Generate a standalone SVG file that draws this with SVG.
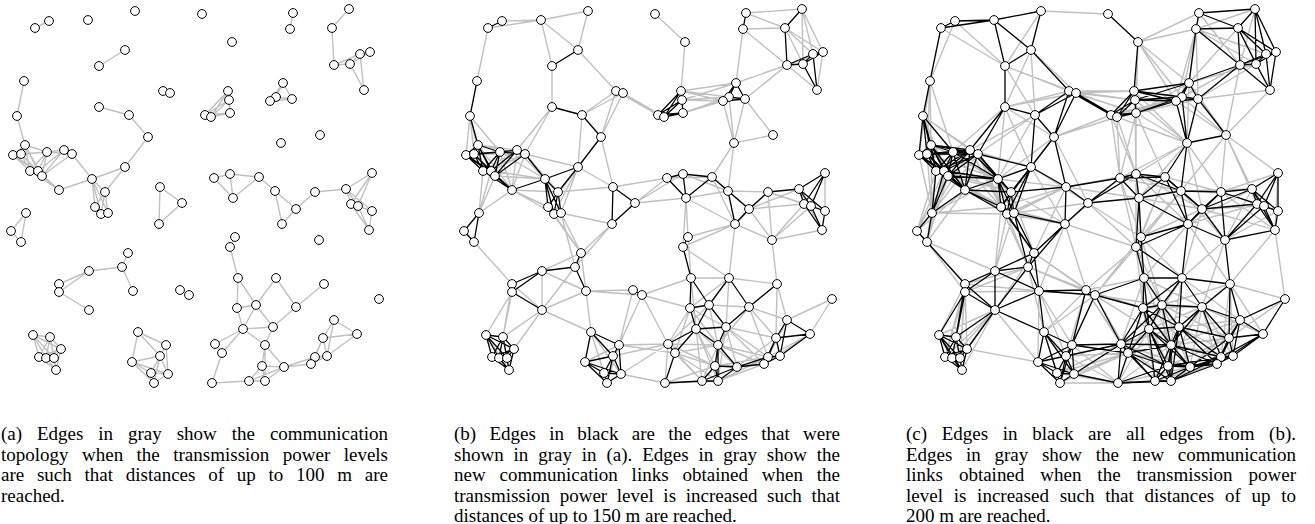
<svg xmlns="http://www.w3.org/2000/svg" width="1315" height="524" viewBox="0 0 1315 524">
<style>
.cap{font-family:"Liberation Serif","Times New Roman",serif;font-size:19px;fill:#000}
.nd circle{fill:#fff;stroke:#000;stroke-width:1}
</style>
<defs>
<path id="e1" fill="none" d="M35 28L49 21M125 50L99 66M24 81L17 116M163 91L170 93M99 107L129 115M129 115L148 137M17 116L25 145M148 137L125 167M25 145L13 155M25 145L21 154M25 145L47 152M25 145L30 171M25 145L38 171M25 145L42 176M13 155L21 154M13 155L47 152M13 155L30 171M13 155L38 171M13 155L42 176M21 154L47 152M21 154L30 171M21 154L38 171M21 154L42 176M47 152L64 150M47 152L72 154M47 152L30 171M47 152L38 171M47 152L42 176M64 150L72 154M64 150L38 171M64 150L42 176M72 154L42 176M72 154L92 179M125 167L92 179M125 167L105 192M30 171L38 171M30 171L42 176M30 171L59 190M38 171L42 176M38 171L59 190M42 176L59 190M92 179L59 190M92 179L105 192M92 179L95 207M92 179L101 214M92 179L108 213M105 192L95 207M105 192L101 214M105 192L108 213M160 187L182 203M160 187L159 224M182 203L159 224M293 13L290 29M349 9L332 28M332 28L334 65M334 65L350 64M334 65L360 54M350 64L360 54M350 64L370 52M350 64L364 90M360 54L370 52M360 54L364 90M283 83L276 97M283 83L270 101M283 83L292 99M276 97L270 101M276 97L292 99M270 101L292 99M228 91L229 100M228 91L230 113M228 91L205 115M228 91L211 117M229 100L230 113M229 100L205 115M229 100L211 117M230 113L205 115M230 113L211 117M205 115L211 117M214 178L230 174M214 178L233 198M230 174L259 177M230 174L233 198M259 177L275 191M259 177L233 198M275 191L296 209M275 191L282 224M315 192L346 189M315 192L296 209M346 189L372 173M346 189L351 204M346 189L358 206M346 189L372 211M372 173L351 204M372 173L358 206M296 209L282 224M351 204L358 206M351 204L372 211M351 204L369 230M358 206L372 211M358 206L369 230M372 211L369 230M235 237L230 247M230 247L238 278M238 278L237 308M238 278L256 305M276 278L256 305M276 278L296 307M324 284L296 307M237 308L256 305M237 308L243 329M256 305L243 329M256 305L273 327M296 307L273 327M243 329L273 327M243 329L215 344M243 329L222 353M243 329L265 345M273 327L265 345M334 320L357 334M334 320L323 338M334 320L327 356M357 334L323 338M357 334L327 356M323 338L315 357M323 338L327 356M323 338L311 364M215 344L222 353M222 353L212 383M265 345L262 366M265 345L284 367M265 345L265 381M315 357L327 356M315 357L311 364M315 357L284 367M327 356L311 364M311 364L284 367M262 366L284 367M262 366L249 381M262 366L265 381M284 367L249 381M284 367L265 381M212 383L249 381M249 381L265 381M95 207L101 214M95 207L108 213M101 214L108 213M26 213L11 231M26 213L21 242M11 231L21 242M128 253L122 267M122 267L89 271M122 267L133 291M89 271L59 284M89 271L59 292M59 284L59 292M59 292L89 310M180 290L189 295M33 335L50 337M33 335L61 349M33 335L39 357M33 335L46 358M33 335L54 358M50 337L61 349M50 337L39 357M50 337L46 358M50 337L54 358M50 337L56 370M61 349L39 357M61 349L46 358M61 349L54 358M61 349L56 370M39 357L46 358M39 357L54 358M39 357L56 370M46 358L54 358M46 358L56 370M54 358L56 370M138 332L166 345M138 332L160 356M138 332L132 362M166 345L160 356M166 345L151 373M166 345L168 374M160 356L132 362M160 356L151 373M160 356L168 374M160 356L154 383M132 362L151 373M132 362L168 374M132 362L154 383M151 373L168 374M151 373L154 383M168 374L154 383"/>
<path id="e2" fill="none" d="M35 28L88 20M35 28L24 81M49 21L88 20M88 20L135 11M88 20L125 50M88 20L99 66M135 11L125 50M202 14L232 42M125 50L163 91M99 66L99 107M163 91L129 115M163 91L148 137M163 91L205 115M163 91L211 117M170 93L129 115M170 93L148 137M170 93L205 115M170 93L211 117M99 107L64 150M99 107L72 154M129 115L125 167M17 116L13 155M17 116L21 154M17 116L47 152M17 116L30 171M148 137L160 187M25 145L64 150M25 145L72 154M25 145L59 190M13 155L64 150M21 154L64 150M21 154L72 154M21 154L59 190M47 152L92 179M47 152L59 190M64 150L30 171M64 150L92 179M64 150L59 190M72 154L125 167M72 154L30 171M72 154L38 171M72 154L59 190M72 154L105 192M125 167L160 187M125 167L95 207M125 167L101 214M125 167L108 213M30 171L26 213M38 171L92 179M38 171L26 213M42 176L92 179M42 176L26 213M59 190L105 192M59 190L95 207M59 190L101 214M59 190L108 213M59 190L26 213M105 192L160 187M160 187L214 178M182 203L214 178M182 203L230 174M182 203L233 198M159 224L108 213M159 224L128 253M159 224L122 267M293 13L349 9M293 13L332 28M290 29L332 28M290 29L334 65M290 29L283 83M349 9L350 64M349 9L360 54M349 9L370 52M332 28L350 64M332 28L360 54M332 28L370 52M232 42L228 91M334 65L370 52M334 65L364 90M334 65L283 83M334 65L292 99M370 52L364 90M283 83L228 91M283 83L229 100M276 97L228 91M276 97L229 100M276 97L230 113M276 97L281 143M270 101L228 91M270 101L229 100M270 101L230 113M270 101L281 143M292 99L320 135M292 99L281 143M320 135L281 143M281 143L259 177M281 143L275 191M214 178L259 177M230 174L275 191M259 177L296 209M259 177L282 224M275 191L233 198M275 191L315 192M233 198L282 224M233 198L235 237M233 198L230 247M315 192L282 224M315 192L351 204M315 192L358 206M315 192L319 240M346 189L296 209M346 189L369 230M372 173L372 211M296 209L351 204M296 209L319 240M282 224L319 240M282 224L235 237M282 224L230 247M282 224L276 278M351 204L319 240M358 206L319 240M369 230L319 240M319 240L324 284M235 237L238 278M230 247L276 278M238 278L276 278M238 278L243 329M238 278L189 295M276 278L324 284M276 278L237 308M276 278L273 327M324 284L334 320M324 284L323 338M379 299L334 320M379 299L357 334M237 308L273 327M237 308L215 344M237 308L222 353M237 308L265 345M237 308L189 295M256 305L296 307M256 305L215 344M256 305L265 345M296 307L334 320M296 307L323 338M296 307L265 345M296 307L315 357M243 329L262 366M243 329L284 367M243 329L249 381M243 329L265 381M273 327L323 338M273 327L315 357M273 327L311 364M273 327L262 366M273 327L284 367M273 327L265 381M334 320L315 357M334 320L311 364M357 334L315 357M357 334L311 364M323 338L284 367M215 344L265 345M215 344L262 366M215 344L212 383M215 344L249 381M215 344L166 345M215 344L160 356M215 344L168 374M215 344L189 295M222 353L265 345M222 353L262 366M222 353L249 381M222 353L265 381M222 353L166 345M265 345L315 357M265 345L311 364M265 345L249 381M315 357L262 366M315 357L265 381M327 356L284 367M311 364L262 366M311 364L265 381M262 366L212 383M212 383L265 381M212 383L168 374M95 207L128 253M101 214L128 253M108 213L128 253M108 213L122 267M21 242L59 284M128 253L89 271M128 253L133 291M122 267L89 310M89 271L133 291M89 271L89 310M59 284L89 310M59 284L50 337M59 292L33 335M59 292L50 337M133 291L89 310M133 291L180 290M133 291L189 295M133 291L138 332M89 310L50 337M89 310L61 349M89 310L138 332M180 290L166 345M189 295L166 345M33 335L56 370M138 332L151 373M138 332L168 374M138 332L154 383M166 345L132 362M166 345L154 383"/>
<path id="e3" fill="none" d="M35 28L99 66M49 21L99 66M49 21L24 81M135 11L202 14M135 11L99 66M125 50L170 93M125 50L99 107M125 50L129 115M99 66L163 91M99 66L170 93M99 66L129 115M24 81L25 145M24 81L13 155M24 81L21 154M24 81L47 152M163 91L99 107M163 91L228 91M163 91L229 100M163 91L230 113M170 93L99 107M170 93L228 91M170 93L229 100M170 93L230 113M99 107L148 137M99 107L47 152M99 107L125 167M99 107L92 179M129 115L64 150M129 115L72 154M129 115L92 179M17 116L64 150M17 116L72 154M17 116L38 171M17 116L42 176M148 137L92 179M148 137L105 192M148 137L182 203M148 137L205 115M148 137L211 117M25 145L92 179M25 145L26 213M13 155L72 154M13 155L59 190M13 155L26 213M21 154L92 179M21 154L26 213M47 152L105 192M47 152L95 207M47 152L26 213M64 150L125 167M64 150L105 192M64 150L95 207M64 150L101 214M64 150L26 213M72 154L95 207M72 154L101 214M72 154L108 213M72 154L26 213M125 167L59 190M125 167L182 203M125 167L159 224M30 171L92 179M30 171L95 207M30 171L11 231M30 171L21 242M38 171L105 192M38 171L95 207M38 171L11 231M38 171L21 242M42 176L105 192M42 176L95 207M42 176L101 214M42 176L108 213M42 176L11 231M42 176L21 242M92 179L160 187M92 179L26 213M59 190L11 231M59 190L21 242M105 192L159 224M105 192L128 253M160 187L230 174M160 187L233 198M160 187L95 207M160 187L101 214M160 187L108 213M160 187L128 253M182 203L108 213M182 203L128 253M182 203L235 237M182 203L230 247M159 224L214 178M159 224L95 207M159 224L101 214M159 224L133 291M159 224L180 290M159 224L230 247M293 13L232 42M293 13L334 65M293 13L283 83M290 29L349 9M290 29L232 42M290 29L350 64M290 29L360 54M290 29L276 97M290 29L270 101M290 29L292 99M349 9L334 65M332 28L364 90M332 28L283 83M232 42L283 83M232 42L276 97M232 42L270 101M232 42L229 100M232 42L230 113M334 65L276 97M334 65L270 101M334 65L320 135M350 64L283 83M350 64L292 99M364 90L292 99M364 90L320 135M283 83L230 113M283 83L320 135M283 83L281 143M276 97L205 115M276 97L211 117M276 97L320 135M270 101L205 115M270 101L211 117M270 101L320 135M292 99L228 91M292 99L229 100M292 99L230 113M228 91L281 143M229 100L281 143M229 100L230 174M230 113L281 143M230 113L214 178M230 113L230 174M230 113L259 177M205 115L214 178M205 115L230 174M211 117L281 143M211 117L214 178M211 117L230 174M320 135L275 191M320 135L315 192M320 135L346 189M320 135L372 173M320 135L351 204M281 143L214 178M281 143L230 174M281 143L233 198M281 143L315 192M281 143L296 209M214 178L275 191M214 178L235 237M214 178L230 247M230 174L296 209M230 174L282 224M230 174L235 237M230 174L230 247M259 177L315 192M259 177L235 237M259 177L230 247M275 191L346 189M275 191L319 240M275 191L235 237M275 191L230 247M233 198L296 209M315 192L372 173M315 192L372 211M315 192L369 230M346 189L282 224M346 189L319 240M372 173L369 230M296 209L358 206M296 209L369 230M296 209L235 237M296 209L276 278M282 224L351 204M282 224L238 278M282 224L324 284M372 211L319 240M369 230L324 284M369 230L379 299M319 240L276 278M319 240L296 307M235 237L276 278M235 237L237 308M235 237L256 305M235 237L189 295M230 247L237 308M230 247L256 305M230 247L180 290M230 247L189 295M238 278L296 307M238 278L273 327M238 278L215 344M238 278L180 290M238 278L265 345M276 278L243 329M276 278L334 320M276 278L265 345M324 284L379 299M324 284L256 305M324 284L273 327M324 284L357 334M324 284L315 357M324 284L327 356M379 299L323 338M237 308L296 307M237 308L262 366M237 308L284 367M237 308L249 381M237 308L180 290M256 305L323 338M256 305L222 353M256 305L262 366M256 305L284 367M256 305L189 295M296 307L243 329M296 307L357 334M296 307L327 356M296 307L311 364M296 307L262 366M296 307L284 367M243 329L212 383M243 329L189 295M243 329L180 290M273 327L334 320M273 327L215 344M273 327L222 353M273 327L327 356M273 327L249 381M334 320L284 367M334 320L265 345M323 338L265 345M323 338L262 366M323 338L265 381M215 344L284 367M215 344L265 381M215 344L151 373M215 344L154 383M215 344L180 290M222 353L284 367M222 353L160 356M222 353L151 373M222 353L168 374M222 353L154 383M222 353L189 295M222 353L180 290M265 345L327 356M265 345L212 383M315 357L249 381M327 356L262 366M327 356L265 381M311 364L249 381M284 367L212 383M212 383L154 383M212 383L151 373M212 383L160 356M212 383L166 345M95 207L26 213M95 207L122 267M95 207L89 271M101 214L26 213M101 214L122 267M101 214L89 271M108 213L89 271M11 231L59 284M21 242L89 271M21 242L59 292M128 253L59 284M128 253L89 310M128 253L180 290M128 253L189 295M122 267L59 284M122 267L59 292M122 267L180 290M122 267L189 295M122 267L138 332M59 284L133 291M59 284L33 335M59 284L61 349M59 284L39 357M59 284L46 358M59 284L54 358M59 292L133 291M59 292L61 349M59 292L39 357M59 292L46 358M59 292L54 358M133 291L166 345M133 291L160 356M133 291L132 362M89 310L33 335M89 310L39 357M89 310L46 358M89 310L54 358M89 310L56 370M89 310L132 362M180 290L138 332M180 290L160 356M189 295L138 332M189 295L160 356M61 349L132 362"/>
</defs>
<g id="connectors" stroke-linecap="round">
<g id="conn-a"><use href="#e1" stroke="#c0c0c0" stroke-width="1.4"/></g>
<g id="conn-b" transform="translate(453,0)"><use href="#e2" stroke="#c0c0c0" stroke-width="1.4"/><use href="#e1" stroke="#000" stroke-width="1.3"/></g>
<g id="conn-c" transform="translate(906,0)"><use href="#e3" stroke="#c0c0c0" stroke-width="1.4"/><use href="#e2" stroke="#000" stroke-width="1.3"/><use href="#e1" stroke="#000" stroke-width="1.3"/></g>
</g>
<g id="nodes-a" class="nd">
<g id="n1"><circle cx="35" cy="28" r="4.4"/></g>
<g id="n2"><circle cx="49" cy="21" r="4.4"/></g>
<g id="n3"><circle cx="88" cy="20" r="4.4"/></g>
<g id="n4"><circle cx="135" cy="11" r="4.4"/></g>
<g id="n5"><circle cx="202" cy="14" r="4.4"/></g>
<g id="n6"><circle cx="125" cy="50" r="4.4"/></g>
<g id="n7"><circle cx="99" cy="66" r="4.4"/></g>
<g id="n8"><circle cx="24" cy="81" r="4.4"/></g>
<g id="n9"><circle cx="163" cy="91" r="4.4"/></g>
<g id="n10"><circle cx="170" cy="93" r="4.4"/></g>
<g id="n11"><circle cx="99" cy="107" r="4.4"/></g>
<g id="n12"><circle cx="129" cy="115" r="4.4"/></g>
<g id="n13"><circle cx="17" cy="116" r="4.4"/></g>
<g id="n14"><circle cx="148" cy="137" r="4.4"/></g>
<g id="n15"><circle cx="25" cy="145" r="4.4"/></g>
<g id="n16"><circle cx="13" cy="155" r="4.4"/></g>
<g id="n17"><circle cx="21" cy="154" r="4.4"/></g>
<g id="n18"><circle cx="47" cy="152" r="4.4"/></g>
<g id="n19"><circle cx="64" cy="150" r="4.4"/></g>
<g id="n20"><circle cx="72" cy="154" r="4.4"/></g>
<g id="n21"><circle cx="125" cy="167" r="4.4"/></g>
<g id="n22"><circle cx="30" cy="171" r="4.4"/></g>
<g id="n23"><circle cx="38" cy="171" r="4.4"/></g>
<g id="n24"><circle cx="42" cy="176" r="4.4"/></g>
<g id="n25"><circle cx="92" cy="179" r="4.4"/></g>
<g id="n26"><circle cx="59" cy="190" r="4.4"/></g>
<g id="n27"><circle cx="105" cy="192" r="4.4"/></g>
<g id="n28"><circle cx="160" cy="187" r="4.4"/></g>
<g id="n29"><circle cx="182" cy="203" r="4.4"/></g>
<g id="n30"><circle cx="159" cy="224" r="4.4"/></g>
<g id="n31"><circle cx="293" cy="13" r="4.4"/></g>
<g id="n32"><circle cx="290" cy="29" r="4.4"/></g>
<g id="n33"><circle cx="349" cy="9" r="4.4"/></g>
<g id="n34"><circle cx="332" cy="28" r="4.4"/></g>
<g id="n35"><circle cx="232" cy="42" r="4.4"/></g>
<g id="n36"><circle cx="334" cy="65" r="4.4"/></g>
<g id="n37"><circle cx="350" cy="64" r="4.4"/></g>
<g id="n38"><circle cx="360" cy="54" r="4.4"/></g>
<g id="n39"><circle cx="370" cy="52" r="4.4"/></g>
<g id="n40"><circle cx="364" cy="90" r="4.4"/></g>
<g id="n41"><circle cx="283" cy="83" r="4.4"/></g>
<g id="n42"><circle cx="276" cy="97" r="4.4"/></g>
<g id="n43"><circle cx="270" cy="101" r="4.4"/></g>
<g id="n44"><circle cx="292" cy="99" r="4.4"/></g>
<g id="n45"><circle cx="228" cy="91" r="4.4"/></g>
<g id="n46"><circle cx="229" cy="100" r="4.4"/></g>
<g id="n47"><circle cx="230" cy="113" r="4.4"/></g>
<g id="n48"><circle cx="205" cy="115" r="4.4"/></g>
<g id="n49"><circle cx="211" cy="117" r="4.4"/></g>
<g id="n50"><circle cx="320" cy="135" r="4.4"/></g>
<g id="n51"><circle cx="281" cy="143" r="4.4"/></g>
<g id="n52"><circle cx="214" cy="178" r="4.4"/></g>
<g id="n53"><circle cx="230" cy="174" r="4.4"/></g>
<g id="n54"><circle cx="259" cy="177" r="4.4"/></g>
<g id="n55"><circle cx="275" cy="191" r="4.4"/></g>
<g id="n56"><circle cx="233" cy="198" r="4.4"/></g>
<g id="n57"><circle cx="315" cy="192" r="4.4"/></g>
<g id="n58"><circle cx="346" cy="189" r="4.4"/></g>
<g id="n59"><circle cx="372" cy="173" r="4.4"/></g>
<g id="n60"><circle cx="95" cy="207" r="4.4"/></g>
<g id="n61"><circle cx="101" cy="214" r="4.4"/></g>
<g id="n62"><circle cx="108" cy="213" r="4.4"/></g>
<g id="n63"><circle cx="26" cy="213" r="4.4"/></g>
<g id="n64"><circle cx="11" cy="231" r="4.4"/></g>
<g id="n65"><circle cx="21" cy="242" r="4.4"/></g>
<g id="n66"><circle cx="128" cy="253" r="4.4"/></g>
<g id="n67"><circle cx="122" cy="267" r="4.4"/></g>
<g id="n68"><circle cx="89" cy="271" r="4.4"/></g>
<g id="n69"><circle cx="59" cy="284" r="4.4"/></g>
<g id="n70"><circle cx="59" cy="292" r="4.4"/></g>
<g id="n71"><circle cx="133" cy="291" r="4.4"/></g>
<g id="n72"><circle cx="89" cy="310" r="4.4"/></g>
<g id="n73"><circle cx="180" cy="290" r="4.4"/></g>
<g id="n74"><circle cx="189" cy="295" r="4.4"/></g>
<g id="n75"><circle cx="33" cy="335" r="4.4"/></g>
<g id="n76"><circle cx="50" cy="337" r="4.4"/></g>
<g id="n77"><circle cx="61" cy="349" r="4.4"/></g>
<g id="n78"><circle cx="39" cy="357" r="4.4"/></g>
<g id="n79"><circle cx="46" cy="358" r="4.4"/></g>
<g id="n80"><circle cx="54" cy="358" r="4.4"/></g>
<g id="n81"><circle cx="56" cy="370" r="4.4"/></g>
<g id="n82"><circle cx="138" cy="332" r="4.4"/></g>
<g id="n83"><circle cx="166" cy="345" r="4.4"/></g>
<g id="n84"><circle cx="160" cy="356" r="4.4"/></g>
<g id="n85"><circle cx="132" cy="362" r="4.4"/></g>
<g id="n86"><circle cx="151" cy="373" r="4.4"/></g>
<g id="n87"><circle cx="168" cy="374" r="4.4"/></g>
<g id="n88"><circle cx="154" cy="383" r="4.4"/></g>
<g id="n89"><circle cx="296" cy="209" r="4.4"/></g>
<g id="n90"><circle cx="282" cy="224" r="4.4"/></g>
<g id="n91"><circle cx="351" cy="204" r="4.4"/></g>
<g id="n92"><circle cx="358" cy="206" r="4.4"/></g>
<g id="n93"><circle cx="372" cy="211" r="4.4"/></g>
<g id="n94"><circle cx="369" cy="230" r="4.4"/></g>
<g id="n95"><circle cx="319" cy="240" r="4.4"/></g>
<g id="n96"><circle cx="235" cy="237" r="4.4"/></g>
<g id="n97"><circle cx="230" cy="247" r="4.4"/></g>
<g id="n98"><circle cx="238" cy="278" r="4.4"/></g>
<g id="n99"><circle cx="276" cy="278" r="4.4"/></g>
<g id="n100"><circle cx="324" cy="284" r="4.4"/></g>
<g id="n101"><circle cx="379" cy="299" r="4.4"/></g>
<g id="n102"><circle cx="237" cy="308" r="4.4"/></g>
<g id="n103"><circle cx="256" cy="305" r="4.4"/></g>
<g id="n104"><circle cx="296" cy="307" r="4.4"/></g>
<g id="n105"><circle cx="243" cy="329" r="4.4"/></g>
<g id="n106"><circle cx="273" cy="327" r="4.4"/></g>
<g id="n107"><circle cx="334" cy="320" r="4.4"/></g>
<g id="n108"><circle cx="357" cy="334" r="4.4"/></g>
<g id="n109"><circle cx="323" cy="338" r="4.4"/></g>
<g id="n110"><circle cx="215" cy="344" r="4.4"/></g>
<g id="n111"><circle cx="222" cy="353" r="4.4"/></g>
<g id="n112"><circle cx="265" cy="345" r="4.4"/></g>
<g id="n113"><circle cx="315" cy="357" r="4.4"/></g>
<g id="n114"><circle cx="327" cy="356" r="4.4"/></g>
<g id="n115"><circle cx="311" cy="364" r="4.4"/></g>
<g id="n116"><circle cx="262" cy="366" r="4.4"/></g>
<g id="n117"><circle cx="284" cy="367" r="4.4"/></g>
<g id="n118"><circle cx="212" cy="383" r="4.4"/></g>
<g id="n119"><circle cx="249" cy="381" r="4.4"/></g>
<g id="n120"><circle cx="265" cy="381" r="4.4"/></g>
</g>
<use id="nodes-b" href="#nodes-a" transform="translate(453,0)"/>
<use id="nodes-c" href="#nodes-a" transform="translate(906,0)"/>
<g id="captions" class="cap">
<text x="1" y="440" word-spacing="10.2" textLength="387" lengthAdjust="spacing">(a) Edges in gray show the communication</text>
<text x="1" y="460.6" word-spacing="8.7" textLength="387" lengthAdjust="spacing">topology when the transmission power levels</text>
<text x="1" y="481.2" word-spacing="8" textLength="387" lengthAdjust="spacing">are such that distances of up to 100 m are</text>
<text x="1" y="501.8">reached.</text>
<text x="454" y="440" word-spacing="8.5" textLength="386" lengthAdjust="spacing">(b) Edges in black are the edges that were</text>
<text x="454" y="460.6" word-spacing="5.1" textLength="386" lengthAdjust="spacing">shown in gray in (a). Edges in gray show the</text>
<text x="454" y="481.2" word-spacing="9.1" textLength="386" lengthAdjust="spacing">new communication links obtained when the</text>
<text x="454" y="501.8" word-spacing="4.9" textLength="386" lengthAdjust="spacing">transmission power level is increased such that</text>
<text x="454" y="522.2">distances of up to 150 m are reached.</text>
<text x="906" y="440" word-spacing="9.9" textLength="390" lengthAdjust="spacing">(c) Edges in black are all edges from (b).</text>
<text x="906" y="460.6" word-spacing="8.9" textLength="390" lengthAdjust="spacing">Edges in gray show the new communication</text>
<text x="906" y="481.2" word-spacing="11.2" textLength="390" lengthAdjust="spacing">links obtained when the transmission power</text>
<text x="906" y="501.8" word-spacing="6" textLength="390" lengthAdjust="spacing">level is increased such that distances of up to</text>
<text x="906" y="522.2">200 m are reached.</text>
</g>
</svg>
